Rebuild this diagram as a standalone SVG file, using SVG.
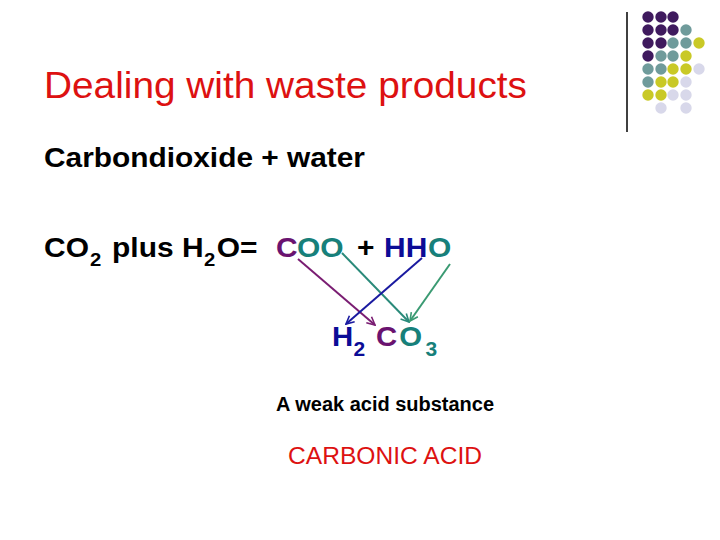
<svg xmlns="http://www.w3.org/2000/svg" width="720" height="540" viewBox="0 0 720 540">
<defs>
<style>
text{font-family:"Liberation Sans",Arial,sans-serif;}
.b{font-weight:bold;}
.p{fill:#3f1a5e}.t{fill:#6f9b9b}.y{fill:#c9c926}.l{fill:#d8d8ea}
.cp{fill:#6a1370}.ct{fill:#17807a}.cb{fill:#0c0c96}
.arr{fill:none;stroke-width:2;}
</style>
<marker id="mp" viewBox="0 0 10 10" refX="9" refY="5" markerWidth="5" markerHeight="5" orient="auto" markerUnits="strokeWidth"><path d="M1,1 L9,5 L1,9" fill="none" stroke="#7a1d72" stroke-width="1.6"/></marker>
<marker id="mt" viewBox="0 0 10 10" refX="9" refY="5" markerWidth="5" markerHeight="5" orient="auto" markerUnits="strokeWidth"><path d="M1,1 L9,5 L1,9" fill="none" stroke="#2a8a7a" stroke-width="1.6"/></marker>
<marker id="mb" viewBox="0 0 10 10" refX="9" refY="5" markerWidth="5" markerHeight="5" orient="auto" markerUnits="strokeWidth"><path d="M1,1 L9,5 L1,9" fill="none" stroke="#1a1aa0" stroke-width="1.6"/></marker>
<marker id="mg" viewBox="0 0 10 10" refX="9" refY="5" markerWidth="5" markerHeight="5" orient="auto" markerUnits="strokeWidth"><path d="M1,1 L9,5 L1,9" fill="none" stroke="#3a9a72" stroke-width="1.6"/></marker>
</defs>
<rect width="720" height="540" fill="#ffffff"/>
<g id="decor">
<line x1="627" y1="12" x2="627" y2="132" stroke="#000" stroke-width="1.5"/>
<g>
<circle class="p" cx="648" cy="17" r="5.7"/><circle class="p" cx="661" cy="17" r="5.7"/><circle class="p" cx="673" cy="17" r="5.7"/>
<circle class="p" cx="648" cy="30" r="5.7"/><circle class="p" cx="661" cy="30" r="5.7"/><circle class="p" cx="673" cy="30" r="5.7"/><circle class="t" cx="686" cy="30" r="5.7"/>
<circle class="p" cx="648" cy="43" r="5.7"/><circle class="p" cx="661" cy="43" r="5.7"/><circle class="t" cx="673" cy="43" r="5.7"/><circle class="t" cx="686" cy="43" r="5.7"/><circle class="y" cx="699" cy="43" r="5.7"/>
<circle class="p" cx="648" cy="56" r="5.7"/><circle class="t" cx="661" cy="56" r="5.7"/><circle class="t" cx="673" cy="56" r="5.7"/><circle class="y" cx="686" cy="56" r="5.7"/>
<circle class="t" cx="648" cy="69" r="5.7"/><circle class="t" cx="661" cy="69" r="5.7"/><circle class="y" cx="673" cy="69" r="5.7"/><circle class="y" cx="686" cy="69" r="5.7"/><circle class="l" cx="699" cy="69" r="5.7"/>
<circle class="t" cx="648" cy="82" r="5.7"/><circle class="y" cx="661" cy="82" r="5.7"/><circle class="y" cx="673" cy="82" r="5.7"/><circle class="l" cx="686" cy="82" r="5.7"/>
<circle class="y" cx="648" cy="95" r="5.7"/><circle class="y" cx="661" cy="95" r="5.7"/><circle class="l" cx="673" cy="95" r="5.7"/><circle class="l" cx="686" cy="95" r="5.7"/>
<circle class="l" cx="661" cy="108" r="5.7"/><circle class="l" cx="686" cy="108" r="5.7"/>
</g>
</g>
<g id="title"><text x="44" y="98" font-size="36" fill="#dd1111" textLength="483" lengthAdjust="spacingAndGlyphs">Dealing with waste products</text></g>
<g id="line1"><text x="44" y="167" font-size="28" class="b" fill="#000" textLength="321" lengthAdjust="spacingAndGlyphs">Carbondioxide + water</text></g>
<g id="equation">
<text transform="translate(44,257) scale(1.07,1)" font-size="28" class="b" fill="#000"><tspan x="0" y="0">CO</tspan><tspan x="43" y="9" font-size="19">2</tspan><tspan x="63.6" y="0">plus H</tspan><tspan x="149.5" y="9" font-size="19">2</tspan><tspan x="161.5" y="0">O=</tspan><tspan x="216.8" class="cp">C</tspan><tspan x="236.4" class="ct">OO</tspan><tspan x="292.5">+</tspan><tspan x="317.8" class="cb">HH</tspan><tspan x="358.9" class="ct">O</tspan></text>
</g>
<g id="product">
<text transform="translate(332,346) scale(1.05,1)" font-size="28" class="b"><tspan x="0" y="0" class="cb">H</tspan><tspan x="20.5" y="10" font-size="20" class="cb">2</tspan><tspan x="42" y="0" class="cp">C</tspan><tspan x="64" y="0" class="ct">O</tspan><tspan x="89" y="10" font-size="20" class="ct">3</tspan></text>
</g>
<g id="connectors">
<line class="arr" x1="298" y1="259" x2="375" y2="325" stroke="#7a1d72" marker-end="url(#mp)"/>
<line class="arr" x1="342" y1="253" x2="409" y2="322" stroke="#2a8a7a" marker-end="url(#mt)"/>
<line class="arr" x1="422" y1="258" x2="346" y2="324" stroke="#1a1aa0" marker-end="url(#mb)"/>
<line class="arr" x1="450" y1="264" x2="410" y2="321" stroke="#3a9a72" marker-end="url(#mg)"/>
</g>
<g id="note"><text x="276" y="411" font-size="20" class="b" fill="#000" textLength="218" lengthAdjust="spacingAndGlyphs">A weak acid substance</text></g>
<g id="name"><text x="288" y="464" font-size="24" fill="#dd1111" textLength="194" lengthAdjust="spacingAndGlyphs">CARBONIC ACID</text></g>
</svg>
